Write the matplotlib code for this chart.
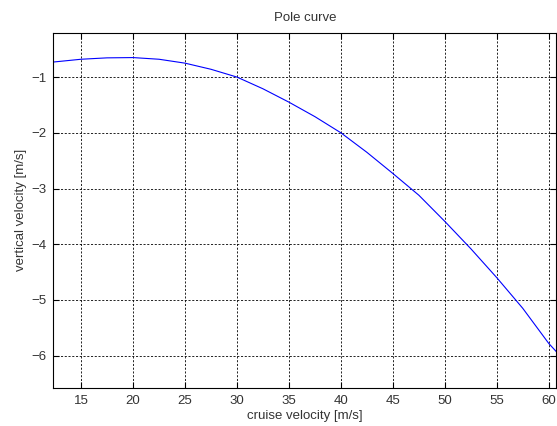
import numpy as np
import matplotlib
matplotlib.use("Agg")
import matplotlib.pyplot as plt

# cruise velocity [m/s] and vertical velocity [m/s]
v_cruise = [12.33, 15, 17.5, 20, 22.5, 25, 27.5, 30, 32.5, 35, 37.5, 40,
            42.5, 45, 47.5, 50, 52.5, 55, 57.5, 60, 60.74]
v_vert = [-0.73, -0.68, -0.655, -0.65, -0.68, -0.75, -0.86, -1.00, -1.21,
          -1.45, -1.71, -2.00, -2.35, -2.73, -3.12, -3.59, -4.08, -4.60,
          -5.15, -5.78, -5.93]
xticks = [15, 20, 25, 30, 35, 40, 45, 50, 55, 60]
yticks = [-1, -2, -3, -4, -5, -6]

plt.rcParams['font.family'] = ['Liberation Sans', 'DejaVu Sans']
plt.rcParams['font.size'] = 9

fig = plt.figure(figsize=(5.57, 4.26), dpi=100)
ax = fig.add_axes([0.0957, 0.0892, 0.9033, 0.8345])

ax.plot(v_cruise, v_vert, color=(0, 0, 1), linewidth=0.8)

ax.set_xlim(12.33, 60.74)
ax.set_ylim(-6.58, -0.2)
ax.set_xticks(xticks)
ax.set_yticks(yticks)
ax.grid(True, color='black', linestyle=(0, (2.5, 2)), linewidth=0.6)
ax.tick_params(direction='in', length=4, top=True, right=True,
               labelsize=9.5, labelcolor='#333333', pad=5)
for s in ax.spines.values():
    s.set_linewidth(0.8)

ax.set_title("Pole curve", fontsize=9.5, color='#333333', pad=8)
ax.set_xlabel("cruise velocity [m/s]", fontsize=9.5, color='#333333', labelpad=2)
ax.set_ylabel("vertical velocity [m/s]", fontsize=9.5, color='#333333', labelpad=3)

fig.savefig("out.png", dpi=100)
